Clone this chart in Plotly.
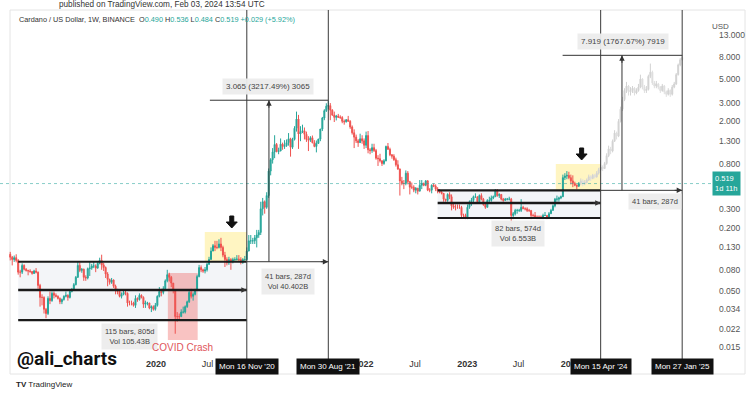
import math
import pandas as pd
import plotly.graph_objects as go

# ---------------- data: ADA/USD weekly candles (Binance), weeks from 2018-08-06 to 2024-01-29
first_open = 0.112
close = [
    # 2018 Aug..Dec
    0.105, 0.100, 0.104, 0.098,
    0.076, 0.076, 0.088, 0.081,
    0.079, 0.078, 0.077, 0.074, 0.078,
    0.076, 0.057, 0.044, 0.044,
    0.034, 0.031, 0.043, 0.041, 0.048,
    # 2019
    0.046, 0.045, 0.043, 0.040,
    0.042, 0.045, 0.046, 0.044,
    0.050, 0.052, 0.058, 0.068,
    0.088, 0.079, 0.081, 0.068, 0.067,
    0.082, 0.083, 0.087, 0.087,
    0.083, 0.092, 0.098, 0.089,
    0.084, 0.073, 0.065, 0.061, 0.064,
    0.056, 0.051, 0.050, 0.045,
    0.047, 0.049, 0.048, 0.039, 0.039,
    0.039, 0.037, 0.043, 0.042,
    0.046, 0.044, 0.038, 0.039,
    0.039, 0.035, 0.036, 0.034, 0.037,
    # 2020
    0.045, 0.050, 0.049, 0.053,
    0.063, 0.072, 0.068, 0.060,
    0.051, 0.029, 0.029, 0.029, 0.032,
    0.032, 0.036, 0.040, 0.049,
    0.045, 0.047, 0.052, 0.069,
    0.084, 0.080, 0.078, 0.080, 0.090,
    0.100, 0.120, 0.135, 0.130,
    0.130, 0.140, 0.130, 0.110, 0.100,
    0.093, 0.100, 0.095, 0.100,
    0.100, 0.101, 0.100, 0.094,
    0.100, 0.100, 0.120, 0.150, 0.150,
    0.150, 0.160, 0.170, 0.180,
    # 2021
    0.30, 0.35, 0.31, 0.40,
    0.68, 0.87, 1.03, 1.21,
    1.04, 1.05, 1.22, 1.16, 1.18,
    1.26, 1.37, 1.14, 1.35,
    1.72, 2.10, 1.52, 1.60, 1.63,
    1.51, 1.35, 1.33, 1.40,
    1.26, 1.16, 1.24, 1.36,
    1.69, 2.15, 2.52, 2.78, 2.81,
    2.55, 2.29, 2.18, 2.24,
    2.19, 2.17, 2.00, 1.98,
    2.07, 2.00, 1.77, 1.56, 1.42,
    1.31, 1.26, 1.37, 1.31,
    # 2022
    1.19, 1.47, 1.08, 1.06, 1.13,
    1.06, 0.90, 0.89, 0.85,
    0.80, 0.85, 1.16, 1.09,
    0.97, 0.94, 0.87, 0.78,
    0.71, 0.55, 0.52, 0.52, 0.65,
    0.54, 0.48, 0.48, 0.45,
    0.47, 0.44, 0.50, 0.52,
    0.50, 0.55, 0.45, 0.45, 0.50,
    0.49, 0.46, 0.44, 0.43,
    0.42, 0.37, 0.36, 0.41, 0.39,
    0.32, 0.31, 0.31, 0.31,
    0.31, 0.26, 0.26, 0.25,
    # 2023
    0.31, 0.35, 0.36, 0.39, 0.39,
    0.35, 0.40, 0.37, 0.33,
    0.31, 0.36, 0.36, 0.38,
    0.39, 0.45, 0.40, 0.41,
    0.37, 0.36, 0.37, 0.37, 0.37,
    0.26, 0.27, 0.29, 0.29,
    0.29, 0.31, 0.30, 0.30, 0.29,
    0.29, 0.26, 0.26, 0.25,
    0.25, 0.25, 0.25, 0.26,
    0.26, 0.25, 0.27, 0.29, 0.32,
    0.37, 0.37, 0.38, 0.39,
    0.59, 0.61, 0.62, 0.59,
    # 2024 Jan
    0.55, 0.52, 0.50, 0.49, 0.519,
]
high = [
    0.118, 0.108, 0.109, 0.112,
    0.101, 0.080, 0.092, 0.090,
    0.083, 0.080, 0.081, 0.078, 0.080,
    0.083, 0.077, 0.059, 0.047,
    0.045, 0.035, 0.045, 0.050, 0.050,
    0.050, 0.048, 0.046, 0.044,
    0.043, 0.046, 0.050, 0.047,
    0.052, 0.054, 0.060, 0.070,
    0.095, 0.094, 0.083, 0.082, 0.071,
    0.084, 0.096, 0.091, 0.095,
    0.090, 0.095, 0.104, 0.111,
    0.093, 0.086, 0.076, 0.066, 0.067,
    0.065, 0.058, 0.053, 0.051,
    0.049, 0.051, 0.052, 0.049, 0.041,
    0.041, 0.040, 0.046, 0.044,
    0.048, 0.047, 0.045, 0.041,
    0.040, 0.039, 0.037, 0.037, 0.039,
    0.046, 0.055, 0.053, 0.056,
    0.065, 0.080, 0.075, 0.070,
    0.060, 0.052, 0.032, 0.031, 0.034,
    0.036, 0.037, 0.041, 0.051,
    0.053, 0.049, 0.053, 0.072,
    0.089, 0.088, 0.082, 0.085, 0.093,
    0.106, 0.130, 0.140, 0.150,
    0.150, 0.155, 0.160, 0.135, 0.118,
    0.105, 0.106, 0.103, 0.104,
    0.105, 0.110, 0.110, 0.105,
    0.103, 0.108, 0.130, 0.170, 0.170,
    0.160, 0.170, 0.190, 0.190,
    0.35, 0.38, 0.36, 0.43,
    0.72, 0.90, 1.12, 1.48,
    1.25, 1.13, 1.38, 1.26, 1.33,
    1.35, 1.55, 1.40, 1.40,
    1.80, 2.47, 2.30, 1.80, 1.86,
    1.75, 1.60, 1.45, 1.45,
    1.47, 1.33, 1.32, 1.37,
    1.70, 2.20, 2.60, 2.96, 3.10,
    2.97, 2.60, 2.47, 2.30,
    2.35, 2.28, 2.24, 2.08,
    2.10, 2.25, 2.05, 1.83, 1.68,
    1.50, 1.36, 1.53, 1.48,
    1.38, 1.60, 1.62, 1.12, 1.23,
    1.23, 1.10, 0.96, 0.99,
    0.86, 0.88, 1.18, 1.25,
    1.13, 0.98, 0.98, 0.91,
    0.86, 0.72, 0.60, 0.56, 0.69,
    0.68, 0.55, 0.53, 0.50,
    0.48, 0.47, 0.56, 0.56,
    0.53, 0.56, 0.56, 0.47, 0.51,
    0.52, 0.51, 0.48, 0.46,
    0.45, 0.42, 0.37, 0.42, 0.43,
    0.41, 0.34, 0.33, 0.33,
    0.33, 0.32, 0.27, 0.27,
    0.33, 0.36, 0.38, 0.40, 0.42,
    0.39, 0.41, 0.42, 0.38,
    0.34, 0.37, 0.39, 0.40,
    0.40, 0.46, 0.46, 0.42,
    0.41, 0.38, 0.38, 0.38, 0.39,
    0.38, 0.28, 0.30, 0.30,
    0.30, 0.37, 0.32, 0.31, 0.31,
    0.30, 0.29, 0.27, 0.28,
    0.26, 0.26, 0.26, 0.27,
    0.28, 0.26, 0.28, 0.30, 0.33,
    0.38, 0.40, 0.39, 0.40,
    0.63, 0.65, 0.68, 0.67,
    0.63, 0.62, 0.54, 0.51, 0.536,
]
low = [
    0.098, 0.088, 0.095, 0.094,
    0.072, 0.068, 0.073, 0.079,
    0.077, 0.071, 0.075, 0.072, 0.073,
    0.074, 0.053, 0.036, 0.037,
    0.031, 0.028, 0.030, 0.038, 0.040,
    0.043, 0.044, 0.042, 0.038,
    0.038, 0.041, 0.044, 0.041,
    0.043, 0.049, 0.051, 0.057,
    0.067, 0.076, 0.075, 0.063, 0.063,
    0.065, 0.070, 0.080, 0.083,
    0.076, 0.082, 0.090, 0.080,
    0.078, 0.067, 0.056, 0.058, 0.059,
    0.054, 0.047, 0.047, 0.044,
    0.043, 0.046, 0.046, 0.036, 0.037,
    0.037, 0.036, 0.035, 0.040,
    0.041, 0.043, 0.035, 0.035,
    0.037, 0.034, 0.032, 0.033, 0.033,
    0.036, 0.044, 0.045, 0.047,
    0.052, 0.061, 0.062, 0.055,
    0.048, 0.020, 0.026, 0.027, 0.029,
    0.031, 0.031, 0.035, 0.039,
    0.043, 0.041, 0.046, 0.051,
    0.068, 0.076, 0.075, 0.074, 0.077,
    0.089, 0.100, 0.120, 0.120,
    0.125, 0.127, 0.120, 0.105, 0.085,
    0.088, 0.089, 0.080, 0.092,
    0.096, 0.098, 0.096, 0.090,
    0.091, 0.097, 0.098, 0.120, 0.140,
    0.140, 0.140, 0.130, 0.160,
    0.17, 0.26, 0.27, 0.30,
    0.38, 0.62, 0.80, 0.90,
    1.02, 0.98, 1.05, 1.08, 1.10,
    1.15, 1.18, 0.93, 1.10,
    1.32, 1.60, 1.10, 1.30, 1.55,
    1.35, 1.28, 1.05, 1.28,
    1.24, 1.14, 1.02, 1.23,
    1.30, 1.62, 2.05, 2.45, 2.60,
    2.05, 2.25, 1.97, 2.04,
    2.15, 2.11, 1.92, 1.86,
    1.95, 1.99, 1.70, 1.50, 1.12,
    1.25, 1.15, 1.25, 1.23,
    1.10, 1.12, 1.00, 0.98, 1.01,
    1.03, 0.87, 0.76, 0.82,
    0.76, 0.78, 0.84, 1.08,
    0.94, 0.89, 0.85, 0.75,
    0.70, 0.40, 0.50, 0.46, 0.50,
    0.51, 0.41, 0.46, 0.43,
    0.42, 0.41, 0.44, 0.46,
    0.49, 0.49, 0.44, 0.43, 0.42,
    0.48, 0.44, 0.42, 0.42,
    0.41, 0.35, 0.35, 0.35, 0.37,
    0.29, 0.30, 0.29, 0.30,
    0.30, 0.25, 0.25, 0.24,
    0.24, 0.30, 0.32, 0.34, 0.38,
    0.34, 0.34, 0.36, 0.32,
    0.30, 0.31, 0.34, 0.35,
    0.37, 0.39, 0.39, 0.38,
    0.36, 0.35, 0.36, 0.36, 0.36,
    0.22, 0.24, 0.26, 0.27,
    0.28, 0.28, 0.30, 0.29, 0.28,
    0.28, 0.24, 0.25, 0.25,
    0.24, 0.24, 0.24, 0.24,
    0.26, 0.24, 0.25, 0.27, 0.29,
    0.31, 0.35, 0.35, 0.37,
    0.39, 0.56, 0.57, 0.57,
    0.51, 0.48, 0.49, 0.46, 0.484,
]

# projected "bars pattern" (grey ghost), weeks from 2024-02-05 to 2025-01-27
ghost_first_open = 0.52
ghost_close = [
    0.55, 0.52, 0.53, 0.56,
    0.60, 0.58, 0.62, 0.60,
    0.65, 0.70, 0.74, 0.72, 0.80,
    0.95, 1.10, 1.05, 1.30,
    1.55, 1.45, 2.00, 2.60,
    3.20, 3.90, 4.30, 3.80, 3.90,
    4.10, 3.70, 3.90, 4.20,
    5.00, 4.20, 3.90, 4.00, 5.30,
    5.80, 4.60, 4.30, 4.50,
    4.20, 3.90, 4.30, 3.80,
    3.60, 3.90, 3.60, 4.20, 4.50,
    5.50, 6.80, 7.60, 8.00,
]
ghost_high = [
    0.58, 0.57, 0.56, 0.58,
    0.63, 0.62, 0.64, 0.64,
    0.68, 0.73, 0.78, 0.77, 0.83,
    1.00, 1.18, 1.15, 1.35,
    1.65, 1.60, 2.10, 2.75,
    3.40, 4.10, 4.70, 4.40, 4.20,
    4.30, 4.20, 4.10, 4.50,
    5.50, 5.10, 4.40, 4.30, 5.50,
    7.00, 6.00, 4.80, 4.80,
    4.60, 4.30, 4.50, 4.40,
    3.90, 4.10, 4.00, 4.40, 4.70,
    5.70, 7.00, 7.90, 8.40,
]
ghost_low = [
    0.50, 0.49, 0.50, 0.52,
    0.55, 0.55, 0.57, 0.58,
    0.59, 0.63, 0.68, 0.68, 0.71,
    0.78, 0.92, 0.98, 1.02,
    1.28, 1.35, 1.42, 1.95,
    2.50, 3.10, 3.70, 3.50, 3.50,
    3.70, 3.50, 3.60, 3.80,
    4.10, 4.00, 3.70, 3.70, 3.90,
    5.10, 4.40, 4.10, 4.10,
    4.00, 3.70, 3.80, 3.60,
    3.40, 3.50, 3.40, 3.50, 4.10,
    4.40, 5.40, 6.60, 7.50,
]

y_ticks = [0.015, 0.022, 0.034, 0.05, 0.08, 0.13, 0.2, 0.3, 0.8, 1.3, 2, 3, 5, 8, 13]
x_ticks = ["2020-01-01", "2020-07-01", "2022-01-01", "2022-07-01", "2023-01-01", "2023-07-01", "2024-01-01"]
x_tick_text = ["<b>2020</b>", "Jul", "<b>2022</b>", "Jul", "<b>2023</b>", "Jul", "<b>2024</b>"]
marker_dates = ["2020-11-16", "2021-08-30", "2024-04-15", "2025-01-27"]
marker_text = ["Mon 16 Nov '20", "Mon 30 Aug '21", "Mon 15 Apr '24", "Mon 27 Jan '25"]

# ---------------- build
dates = pd.date_range("2018-08-06", periods=len(close), freq="7D")
opens = [first_open] + close[:-1]
g_dates = pd.date_range("2024-02-05", periods=len(ghost_close), freq="7D")
g_opens = [ghost_first_open] + ghost_close[:-1]

GREEN = "#26a69a"
RED = "#ef5350"
FONT = "Liberation Sans, Arial, sans-serif"

fig = go.Figure()
fig.add_trace(go.Candlestick(
    x=g_dates, open=g_opens, high=ghost_high, low=ghost_low, close=ghost_close,
    increasing=dict(line=dict(color="#d2d2d2", width=1), fillcolor="#d2d2d2"),
    decreasing=dict(line=dict(color="#dedede", width=1), fillcolor="#dedede"),
    whiskerwidth=0, hoverinfo="skip", showlegend=False))
fig.add_trace(go.Candlestick(
    x=dates, open=opens, high=high, low=low, close=close,
    increasing=dict(line=dict(color=GREEN, width=1), fillcolor=GREEN),
    decreasing=dict(line=dict(color=RED, width=1), fillcolor=RED),
    whiskerwidth=0, hoverinfo="skip", showlegend=False))

L = math.log10
shapes = []
ann = []

def hline(x0, x1, y, w, color="#1a1a1a"):
    shapes.append(dict(type="line", xref="x", yref="y", x0=x0, x1=x1, y0=y, y1=y,
                       line=dict(color=color, width=w)))

def rect(x0, x1, y0, y1, fill):
    shapes.append(dict(type="rect", xref="x", yref="y", x0=x0, x1=x1, y0=y0, y1=y1,
                       fillcolor=fill, line=dict(width=0), layer="below"))

def arrowhead(x, y, ax, ay):
    ann.append(dict(x=x, y=L(y), xref="x", yref="y", text="", showarrow=True,
                    ax=ax, ay=ay, arrowhead=2, arrowsize=1.1, arrowwidth=1,
                    arrowcolor="#333"))

def label(x, y, text, size=7.5, color="#444", bg="rgba(236,236,236,0.95)"):
    ann.append(dict(x=x, y=y, xref="x", yref="y", text=text, showarrow=False,
                    font=dict(size=size, color=color, family=FONT), bgcolor=bg,
                    borderpad=3, align="center"))

# frame
shapes.append(dict(type="rect", xref="paper", yref="paper", x0=10 / 712, x1=745 / 712,
                   y0=(357 - 374) / 347, y1=1.0, line=dict(color="#e4e4e4", width=1),
                   layer="below"))

# highlight areas
rect("2018-09-03", "2020-11-16", 0.0269, 0.0953, "rgba(120,140,175,0.09)")
rect("2022-09-19", "2024-04-15", 0.246, 0.448, "rgba(120,140,175,0.09)")
rect("2020-06-21", "2020-11-16", 0.0953, 0.1815, "rgba(255,232,120,0.45)")
rect("2023-11-09", "2024-04-15", 0.448, 0.793, "rgba(255,232,120,0.45)")
rect("2020-02-12", "2020-05-27", 0.0175, 0.0746, "rgba(239,83,80,0.35)")

# current price dotted line
shapes.append(dict(type="line", xref="paper", yref="y", x0=0, x1=1, y0=0.519, y1=0.519,
                   line=dict(color="rgba(38,166,154,0.55)", width=1, dash="dot")))

# channel lines
hline("2018-09-03", "2020-11-16", 0.0953, 2.2)
hline("2018-09-03", "2020-11-16", 0.0516, 2.6)
hline("2018-09-03", "2020-11-16", 0.0269, 2.2)
hline("2020-11-16", "2021-08-30", 0.0953, 1, "#333")
hline("2022-09-19", "2024-04-15", 0.448, 2.2)
hline("2022-09-19", "2024-04-15", 0.340, 2.6)
hline("2022-09-19", "2024-04-15", 0.246, 2.2)
hline("2024-04-15", "2025-01-27", 0.448, 1, "#333")
# measurement lines
hline("2020-07-09", "2021-08-30", 3.16, 1, "#333")
hline("2023-12-03", "2025-01-27", 8.367, 1, "#333")
shapes.append(dict(type="line", xref="x", yref="y", x0="2021-02-02", x1="2021-02-02",
                   y0=0.0953, y1=3.16, line=dict(color="#333", width=1)))
shapes.append(dict(type="line", xref="x", yref="y", x0="2024-06-29", x1="2024-06-29",
                   y0=0.448, y1=8.367, line=dict(color="#333", width=1)))

# vertical date markers
for d in marker_dates:
    shapes.append(dict(type="line", xref="x", yref="paper", x0=d, x1=d, y0=-0.015, y1=1.0,
                       line=dict(color="#3a3a3a", width=1)))

# black block down-arrows (pixel-sized paths anchored at a date/price, tip at anchor)
ARROW = "M0,0 L-5.5,6 L-2,6 L-2,12 L2,12 L2,6 L5.5,6 Z"
for d, p in [("2020-09-24", 0.198), ("2024-02-08", 0.865)]:
    shapes.append(dict(type="path", xref="x", yref="y", xsizemode="pixel", ysizemode="pixel",
                       xanchor=d, yanchor=p, path=ARROW, fillcolor="#111",
                       line=dict(color="#111", width=1)))

# arrowheads
arrowhead("2021-08-30", 0.0953, -9, 0)
arrowhead("2020-11-16", 0.0516, -9, 0)
arrowhead("2025-01-27", 0.448, -9, 0)
arrowhead("2024-04-15", 0.340, -9, 0)
arrowhead("2021-02-02", 3.16, 0, 9)
arrowhead("2024-06-29", 8.367, 0, 9)

# labels
label("2021-01-29", L(4.30), "3.065 (3217.49%) 3065", size=8)
label("2024-07-03", L(11.41), "7.919 (1767.67%) 7919", size=8)
label("2019-09-30", L(0.019), "115 bars, 805d<br>Vol 105.43B")
label("2021-04-09", L(0.0627), "41 bars, 287d<br>Vol 40.402B")
label("2023-06-29", L(0.174), "82 bars, 574d<br>Vol 6.553B")
label("2024-10-23", L(0.348), "41 bars, 287d")
ann.append(dict(x="2020-04-05", y=L(0.0147), xref="x", yref="y", text="COVID Crash",
                showarrow=False, font=dict(size=10, color="#e0565b", family=FONT)))

# date marker boxes on the time axis
for d, t in zip(marker_dates, marker_text):
    ann.append(dict(x=d, y=(357 - 366) / 347, xref="x", yref="paper", text=t, showarrow=False,
                    font=dict(size=8, color="white", family=FONT), bgcolor="#111",
                    borderpad=3, yanchor="middle"))

# price tag
ann.append(dict(x=1.0, y=L(0.519), xref="paper", yref="y", xanchor="left", yanchor="middle",
                text="0.519  <br>1d 11h", showarrow=False, bgcolor=GREEN, borderpad=2,
                font=dict(size=7.5, color="white", family=FONT), align="left"))
ann.append(dict(x=731 / 712, y=(357 - 20) / 347, xref="paper", yref="paper", text="USD",
                showarrow=False, font=dict(size=8, color="#555", family=FONT)))

# header texts
ann.append(dict(x=57 / 712, y=(357 - 5) / 347, xref="paper", yref="paper", xanchor="left",
                yanchor="middle", showarrow=False,
                text="published on TradingView.com, Feb 03, 2024 13:54 UTC",
                font=dict(size=8.2, color="#333", family=FONT)))
gv = lambda s: "<span style='color:%s'>%s</span>" % (GREEN, s)
hdr = ("Cardano / US Dollar, 1W, BINANCE  O" + gv("0.490") + " H" + gv("0.536") + " L" +
       gv("0.484") + " C" + gv("0.519") + " " + gv("+0.029 (+5.92%)"))
ann.append(dict(x=17 / 712, y=(357 - 20) / 347, xref="paper", yref="paper", xanchor="left",
                yanchor="middle", showarrow=False, text=hdr,
                font=dict(size=7.3, color="#333", family=FONT)))

# watermark & logo
ann.append(dict(x=15 / 712, y=(357 - 358) / 347, xref="paper", yref="paper", xanchor="left",
                yanchor="middle", showarrow=False, text="<b>@ali_charts</b>",
                font=dict(size=19, color="#111", family="Liberation Sans Narrow, Roboto, sans-serif")))
ann.append(dict(x=14 / 712, y=(357 - 384) / 347, xref="paper", yref="paper", xanchor="left",
                yanchor="middle", showarrow=False, text="<b>TV</b> TradingView",
                font=dict(size=8, color="#222", family=FONT)))

fig.update_layout(
    width=752, height=409,
    margin=dict(l=0, r=40, t=10, b=52),
    paper_bgcolor="white", plot_bgcolor="white",
    showlegend=False, hovermode=False, dragmode=False,
    shapes=shapes, annotations=ann,
    font=dict(family=FONT),
    xaxis=dict(type="date", range=["2018-07-01", "2025-05-12"], rangeslider=dict(visible=False),
               showgrid=False, zeroline=False, showline=False, ticks="",
               tickvals=x_ticks, ticktext=x_tick_text,
               tickfont=dict(size=9, color="#333", family=FONT)),
    yaxis=dict(type="log", side="right", range=[math.log10(0.01208), math.log10(22.35)],
               showgrid=False, zeroline=False, showline=False, ticks="",
               ticklabelstandoff=6,
               tickvals=y_ticks, ticktext=["%.3f" % v for v in y_ticks],
               tickfont=dict(size=8.5, color="#555", family=FONT)),
)

fig.write_html("out.html")
